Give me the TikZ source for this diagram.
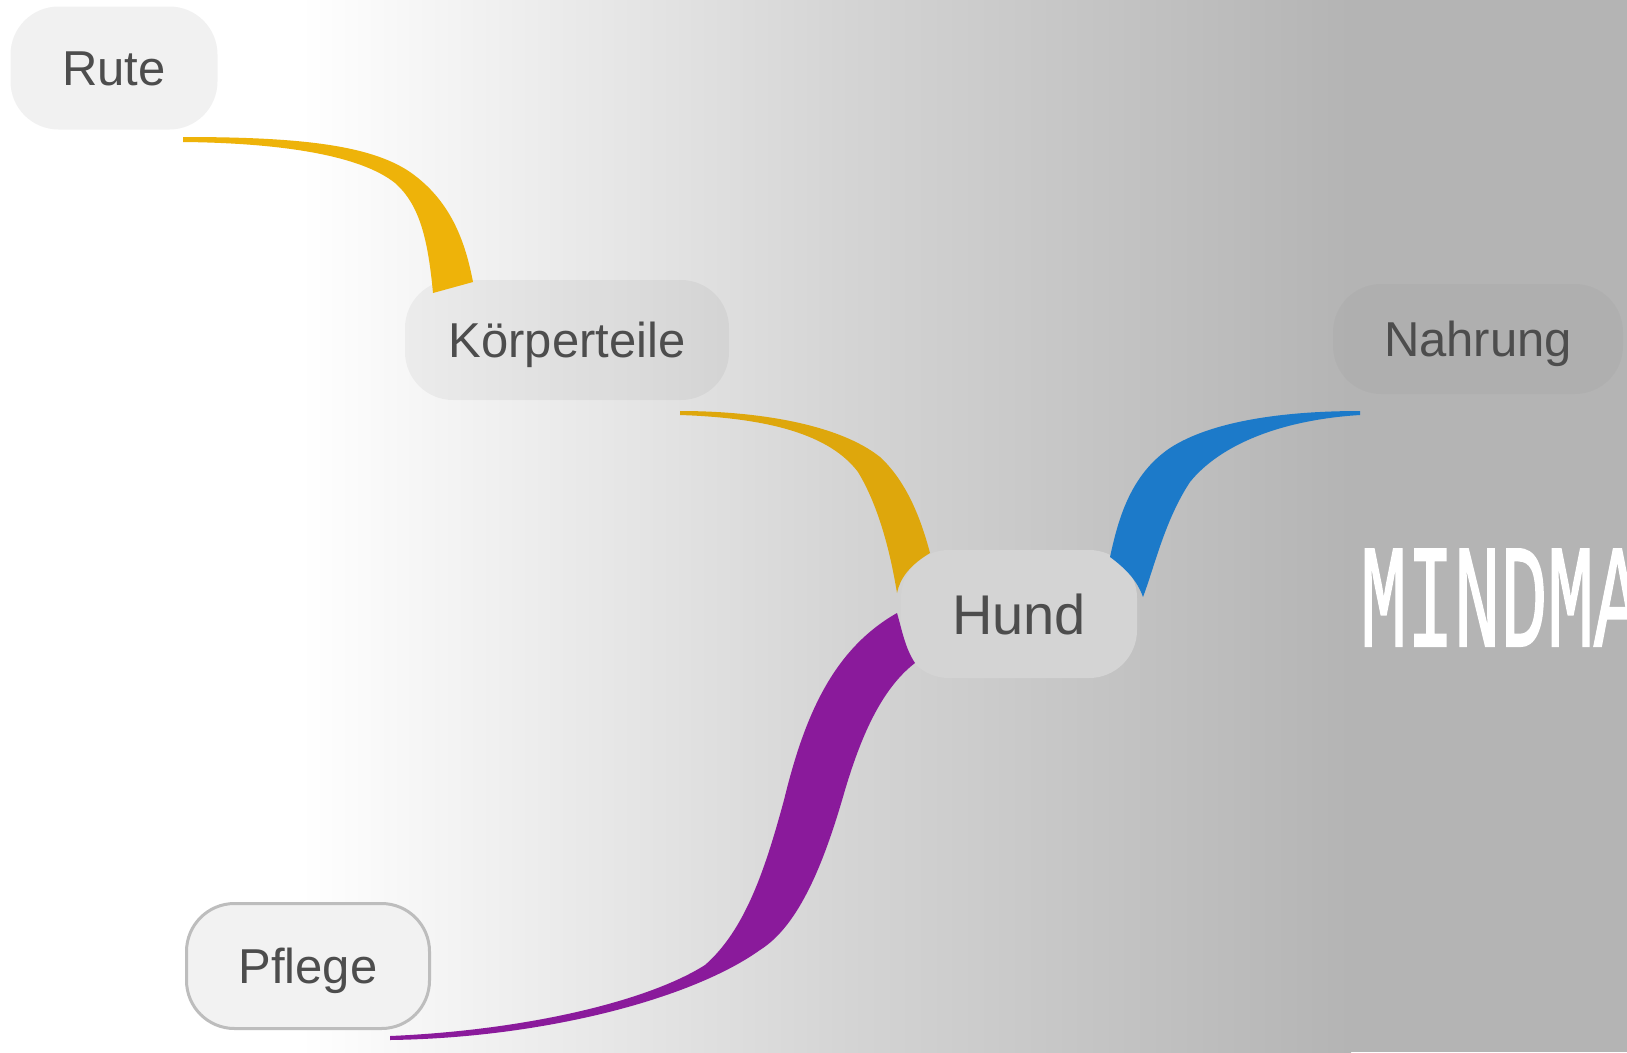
\documentclass[tikz,border=0pt]{standalone}
\usepackage{fontspec}
\setmainfont{Liberation Sans}
\newfontfamily\titlefont[FakeBold=1.5]{Liberation Mono}
\definecolor{txtgray}{HTML}{4D4D4D}
\definecolor{bgmid}{HTML}{D4D4D4}
\definecolor{bgend}{HTML}{B4B4B4}
\definecolor{orangeA}{HTML}{EEB309}
\definecolor{orangeB}{HTML}{DEA70C}
\definecolor{blueB}{HTML}{1C7AC9}
\definecolor{purpleB}{HTML}{8A1A9B}
\begin{document}
\begin{tikzpicture}[x=1pt,y=-1pt,
  blob/.style={rectangle, rounded corners=48pt, inner sep=0pt, text=txtgray, text opacity=1,
    font=\fontsize{49}{49}\selectfont, text height=35pt, text depth=0pt},
  bigblob/.style={blob, font=\fontsize{56}{56}\selectfont, text height=40pt}
]
\useasboundingbox (0,0) rectangle (1627,1052);
% background
\fill[white] (0,0) rectangle (301,1052);
\shade[left color=white, right color=bgmid] (300,0) rectangle (851,1052);
\shade[left color=bgmid, right color=bgend] (850,0) rectangle (1351,1052);
\fill[bgend] (1350,0) rectangle (1627,1052);

% nodes
\node[blob, fill=black, fill opacity=0.055, minimum width=207pt, minimum height=123pt] (rute) at (114,68) {Rute};
\node[blob, fill=black, fill opacity=0.045, minimum width=324pt, minimum height=120pt] (koerper) at (567,340) {Körperteile};
\node[bigblob, fill=black!17, minimum width=236pt, minimum height=128pt] (hund) at (1019,614) {Hund};
\node[blob, fill=black, fill opacity=0.025, minimum width=290pt, minimum height=110pt] (nahrung) at (1478,339) {Nahrung};
\node[blob, fill=black!5, draw=black!26, line width=3pt, minimum width=243pt, minimum height=125pt] (pflege) at (308,966) {Pflege};

% branch Rute -- Koerperteile
\fill[orangeA] (183,137) .. controls (300,137) and (370,145) .. (410,172)
  .. controls (450,200) and (465,240) .. (473,282)
  -- (433,293)
  .. controls (428,240) and (420,205) .. (395,183)
  .. controls (360,155) and (280,143) .. (183,142) -- cycle;

% branch Koerperteile -- Hund
\fill[orangeB] (680,411) .. controls (760,411) and (840,425) .. (880,457)
  .. controls (905,480) and (920,515) .. (930,553)
  .. controls (910,565) and (900,578) .. (897,593)
  .. controls (890,550) and (878,505) .. (858,472)
  .. controls (830,435) and (770,418) .. (680,415) -- cycle;

% branch Hund -- Nahrung
\fill[blueB] (1360,411) .. controls (1280,411) and (1210,422) .. (1170,448)
  .. controls (1130,475) and (1118,520) .. (1110,557)
  .. controls (1125,568) and (1137,580) .. (1143,597)
  .. controls (1155,565) and (1165,520) .. (1190,482)
  .. controls (1220,445) and (1280,420) .. (1360,415) -- cycle;

% branch Hund -- Pflege
\fill[purpleB] (390,1036) .. controls (530,1030) and (650,1000) .. (705,965)
  .. controls (745,930) and (765,870) .. (784,800)
  .. controls (804,718) and (832,650) .. (897,613)
  .. controls (902,630) and (905,648) .. (915,663)
  .. controls (880,690) and (860,740) .. (845,790)
  .. controls (825,860) and (800,925) .. (760,950)
  .. controls (690,1000) and (540,1038) .. (390,1040) -- cycle;

% title
\node[anchor=base west, inner sep=0pt, text=white, font=\titlefont\fontsize{147}{147}\selectfont] (title) at (1360,646) {\scalebox{0.53}[1]{MINDMAP}};
\end{tikzpicture}
\end{document}
